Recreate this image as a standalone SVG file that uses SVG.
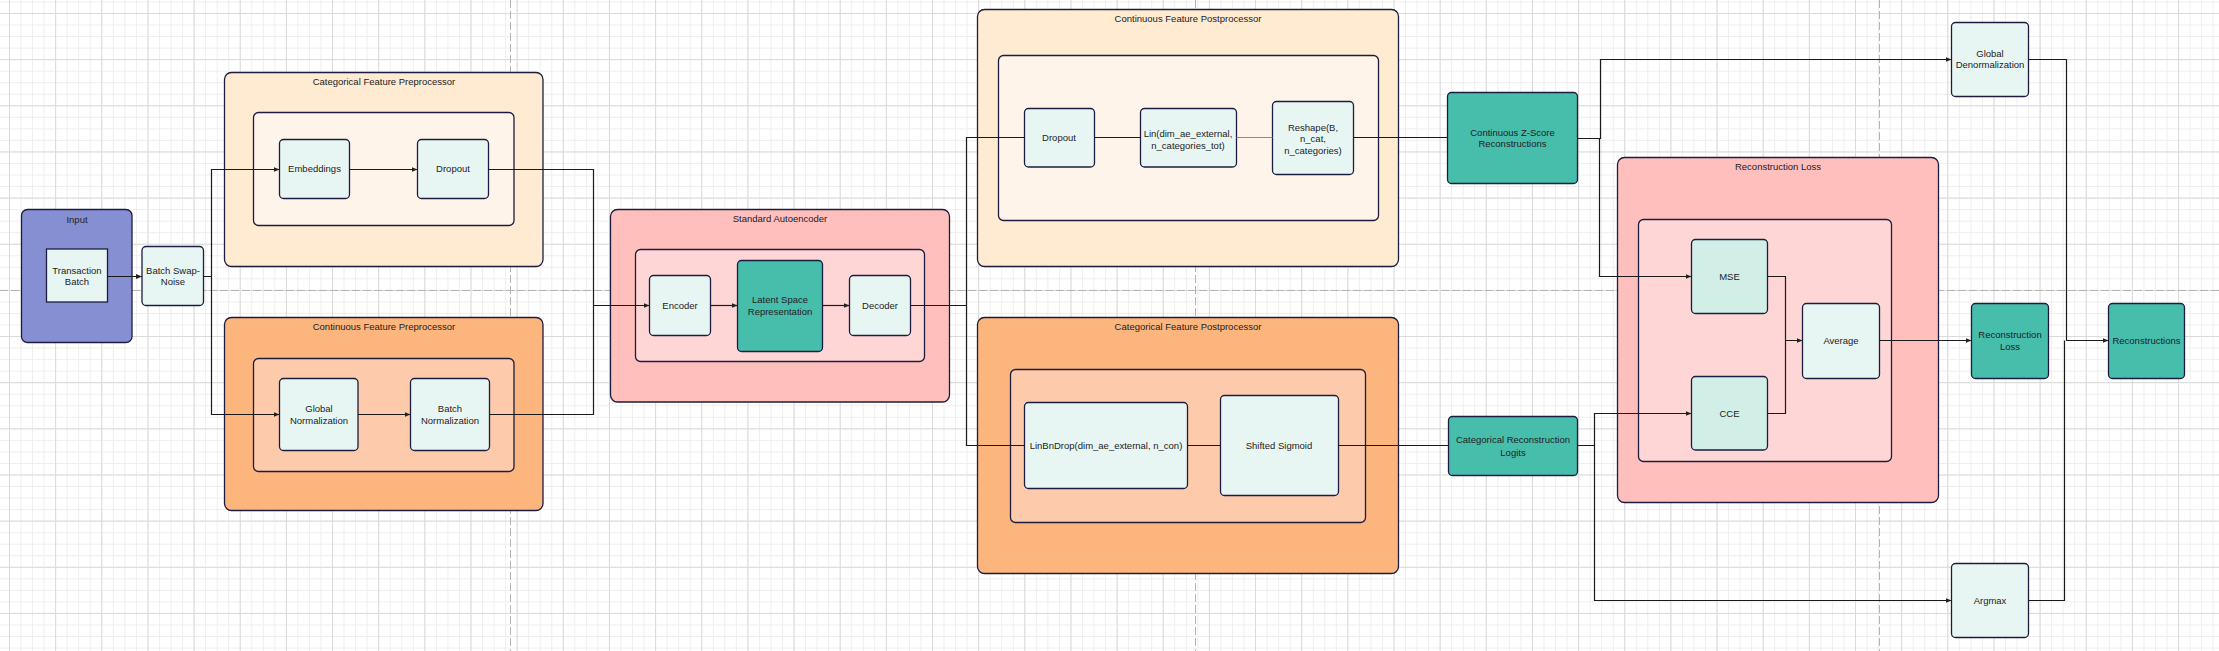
<svg xmlns="http://www.w3.org/2000/svg" width="2219" height="651" viewBox="0 0 2219 651">
<defs>
<pattern id="minor" x="9" y="13" width="11.5375" height="11.5375" patternUnits="userSpaceOnUse">
<path d="M0.5,0 V11.5375 M0,0.5 H11.5375" stroke="#eeeeee" stroke-width="1" fill="none"/>
</pattern>
<pattern id="major" x="9" y="13" width="46.15" height="46.15" patternUnits="userSpaceOnUse">
<path d="M0.5,0 V46.15 M0,0.5 H46.15" stroke="#dadada" stroke-width="1" fill="none"/>
</pattern>
<marker id="arr" viewBox="0 0 6 6" refX="6" refY="3" markerWidth="6" markerHeight="6" markerUnits="userSpaceOnUse" orient="auto">
<path d="M0,0.5 L6,3 L0,5.5 z" fill="#222"/>
</marker>
<style>
.box{stroke:#1c1c40;stroke-width:1.3}
.node{fill:#e8f6f3;stroke:#1c1c40;stroke-width:1.3}
.mint{fill:#d1efe7;stroke:#1c1c40;stroke-width:1.3}
.teal{fill:#47bdac;stroke:#1c1c40;stroke-width:1.3}
text{font-family:"Liberation Sans",Arial,sans-serif;font-size:9.5px;fill:#222;text-anchor:middle}
.c{fill:none;stroke:#1a1a1a;stroke-width:1.2}
.page{stroke:#b4b4b4;stroke-width:1;stroke-dasharray:8 3;fill:none}
</style>
</defs>
<g id="background">
<rect width="2219" height="651" fill="#ffffff"/>
<rect width="2219" height="651" fill="url(#minor)"/>
<rect width="2219" height="651" fill="url(#major)"/>
<path class="page" d="M510.5,0 V651 M1195.5,0 V651 M1879.5,0 V651 M0,290.5 H2219"/>
</g>
<g id="input">
<rect class="box" x="21.5" y="209.5" width="110.5" height="133" rx="6" fill="#878fd3"/>
<text x="77" y="222.5">Input</text>
</g>
<g id="transaction-batch">
<rect class="node" x="46.5" y="249" width="61" height="53"/>
<text x="77" y="274">Transaction</text>
<text x="77" y="285">Batch</text>
</g>
<g id="batch-swap-noise">
<rect class="node" x="142" y="246.5" width="61.5" height="59" rx="4"/>
<text x="173" y="274">Batch Swap-</text>
<text x="173" y="285">Noise</text>
</g>
<g id="categorical-feature-preprocessor">
<rect class="box" x="224.5" y="72.5" width="318.5" height="194" rx="7" fill="#ffebd1"/>
<text x="384" y="85">Categorical Feature Preprocessor</text>
<rect class="box" x="253.5" y="112.5" width="260.5" height="113" rx="5" fill="#fff4e9"/>
</g>
<g id="embeddings">
<rect class="node" x="279.5" y="139.5" width="70" height="59" rx="4"/>
<text x="314.5" y="172">Embeddings</text>
</g>
<g id="dropout-pre">
<rect class="node" x="417.5" y="139.5" width="71" height="59" rx="4"/>
<text x="453" y="172">Dropout</text>
</g>
<g id="continuous-feature-preprocessor">
<rect class="box" x="224.5" y="317.5" width="318.5" height="193" rx="7" fill="#fdb57e"/>
<text x="384" y="330">Continuous Feature Preprocessor</text>
<rect class="box" x="253.5" y="358.5" width="260.5" height="113" rx="5" fill="#fdcbab"/>
</g>
<g id="global-normalization">
<rect class="node" x="279.5" y="378.5" width="78.5" height="72" rx="4"/>
<text x="319" y="412">Global</text>
<text x="319" y="424">Normalization</text>
</g>
<g id="batch-normalization">
<rect class="node" x="410.5" y="378.5" width="79" height="72" rx="4"/>
<text x="450" y="412">Batch</text>
<text x="450" y="424">Normalization</text>
</g>
<g id="standard-autoencoder">
<rect class="box" x="610.5" y="209.5" width="339" height="192.5" rx="7" fill="#ffbfbd"/>
<text x="780" y="221.5">Standard Autoencoder</text>
<rect class="box" x="635.5" y="249.5" width="289" height="112" rx="5" fill="#ffd6d6"/>
</g>
<g id="encoder">
<rect class="node" x="649.5" y="275.5" width="61" height="60" rx="4"/>
<text x="680" y="308.5">Encoder</text>
</g>
<g id="latent-space">
<rect class="teal" x="737.5" y="260.5" width="85" height="91" rx="4"/>
<text x="780" y="303">Latent Space</text>
<text x="780" y="314.5">Representation</text>
</g>
<g id="decoder">
<rect class="node" x="849.5" y="275.5" width="61" height="60" rx="4"/>
<text x="880" y="308.5">Decoder</text>
</g>
<g id="continuous-feature-postprocessor">
<rect class="box" x="977.5" y="9.5" width="421" height="257" rx="7" fill="#ffebd1"/>
<text x="1188" y="22">Continuous Feature Postprocessor</text>
<rect class="box" x="998.5" y="55.5" width="380" height="165" rx="5" fill="#fff4e9"/>
</g>
<g id="dropout-post">
<rect class="node" x="1024.5" y="108.5" width="70" height="58.5" rx="4"/>
<text x="1059" y="141">Dropout</text>
</g>
<g id="lin">
<rect class="node" x="1140.5" y="108.5" width="96" height="58.5" rx="4"/>
<text x="1188" y="136.5">Lin(dim_ae_external,</text>
<text x="1188" y="148.5">n_categories_tot)</text>
</g>
<g id="reshape">
<rect class="node" x="1272.5" y="101.5" width="81" height="73" rx="4"/>
<text x="1313" y="130.5">Reshape(B,</text>
<text x="1313" y="142">n_cat,</text>
<text x="1313" y="153.5">n_categories)</text>
</g>
<g id="categorical-feature-postprocessor">
<rect class="box" x="977.5" y="317.5" width="421" height="256" rx="7" fill="#fdb57e"/>
<text x="1188" y="330">Categorical Feature Postprocessor</text>
<rect class="box" x="1010.5" y="369.5" width="355" height="153" rx="5" fill="#fdcbab"/>
</g>
<g id="linbndrop">
<rect class="node" x="1024.5" y="402.5" width="163" height="86" rx="4"/>
<text x="1106" y="449">LinBnDrop(dim_ae_external, n_con)</text>
</g>
<g id="shifted-sigmoid">
<rect class="node" x="1220.5" y="395.5" width="118" height="100" rx="4"/>
<text x="1279" y="449">Shifted Sigmoid</text>
</g>
<g id="continuous-z-score">
<rect class="teal" x="1447.5" y="92.5" width="130" height="91" rx="4"/>
<text x="1512.5" y="136">Continuous Z-Score</text>
<text x="1512.5" y="147">Reconstructions</text>
</g>
<g id="categorical-reconstruction-logits">
<rect class="teal" x="1448.5" y="416.5" width="129" height="59" rx="4"/>
<text x="1513" y="443">Categorical Reconstruction</text>
<text x="1513" y="455.5">Logits</text>
</g>
<g id="reconstruction-loss-group">
<rect class="box" x="1617.5" y="157.5" width="321" height="345" rx="7" fill="#ffbfbd"/>
<text x="1778" y="170">Reconstruction Loss</text>
<rect class="box" x="1638.5" y="219.5" width="253" height="242" rx="5" fill="#ffd6d6"/>
</g>
<g id="mse">
<rect class="mint" x="1691.5" y="239.5" width="76" height="74" rx="4"/>
<text x="1729.5" y="279.5">MSE</text>
</g>
<g id="cce">
<rect class="mint" x="1691.5" y="376.5" width="76" height="73.5" rx="4"/>
<text x="1729.5" y="416.5">CCE</text>
</g>
<g id="average">
<rect class="node" x="1802.5" y="303.5" width="77" height="75" rx="4"/>
<text x="1841" y="344">Average</text>
</g>
<g id="global-denormalization">
<rect class="node" x="1951.5" y="22.5" width="77" height="74" rx="4"/>
<text x="1990" y="56.5">Global</text>
<text x="1990" y="68">Denormalization</text>
</g>
<g id="reconstruction-loss">
<rect class="teal" x="1971.5" y="303.5" width="77" height="75" rx="4"/>
<text x="2010" y="337.5">Reconstruction</text>
<text x="2010" y="349.5">Loss</text>
</g>
<g id="reconstructions">
<rect class="teal" x="2108.5" y="303.5" width="76" height="75" rx="4"/>
<text x="2146.5" y="344">Reconstructions</text>
</g>
<g id="argmax">
<rect class="node" x="1951.5" y="563.5" width="77" height="74" rx="4"/>
<text x="1990" y="603.5">Argmax</text>
</g>
<g id="connectors">
<path class="c" d="M107.5,276.5 H142" marker-end="url(#arr)"/>
<path class="c" d="M203.5,276.5 H211.5 V169.5 H279.5" marker-end="url(#arr)"/>
<path class="c" d="M211.5,276.5 V414.5 H279.5" marker-end="url(#arr)"/>
<path class="c" d="M349.5,169.5 H417.5" marker-end="url(#arr)"/>
<path class="c" d="M358,414.5 H410.5" marker-end="url(#arr)"/>
<path class="c" d="M488.5,169.5 H593.5 V305.5 H649.5" marker-end="url(#arr)"/>
<path class="c" d="M489.5,414.5 H593.5 V305.5"/>
<path class="c" d="M710.5,305.5 H737.5" marker-end="url(#arr)"/>
<path class="c" d="M822.5,305.5 H849.5" marker-end="url(#arr)"/>
<path class="c" d="M910.5,305.5 H966.5 V137.5 H1024.5"/>
<path class="c" d="M966.5,305.5 V445.5 H1024.5"/>
<path class="c" d="M1094.5,137.5 H1140.5"/>
<path class="c" d="M1236.5,137.5 H1272.5" style="stroke:#8a8a8a"/>
<path class="c" d="M1353.5,137.5 H1447.5"/>
<path class="c" d="M1187.5,445.5 H1220.5"/>
<path class="c" d="M1338.5,445.5 H1448.5"/>
<path class="c" d="M1577.5,138.5 H1600.5 V59.5 H1951.5" marker-end="url(#arr)"/>
<path class="c" d="M1599.5,138.5 V276.5 H1691.5" marker-end="url(#arr)"/>
<path class="c" d="M1577.5,445.5 H1594.5 V413.5 H1691.5" marker-end="url(#arr)"/>
<path class="c" d="M1594.5,445.5 V600.5 H1951.5" marker-end="url(#arr)"/>
<path class="c" d="M1767.5,276.5 H1785.5 V340.5 H1802.5" marker-end="url(#arr)"/>
<path class="c" d="M1767.5,413.5 H1785.5 V340.5"/>
<path class="c" d="M1879.5,340.5 H1971.5" marker-end="url(#arr)"/>
<path class="c" d="M2028.5,59.5 H2066.5 V340.5 H2108.5" marker-end="url(#arr)"/>
<path class="c" d="M2028.5,600.5 H2064.5 V340.5"/>
</g>
</svg>
